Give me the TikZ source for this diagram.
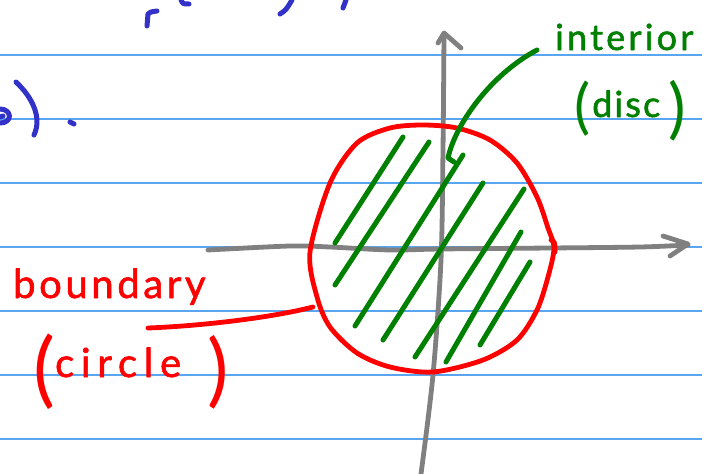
\documentclass[tikz,border=0pt]{standalone}
\usepackage{fontspec}
\newfontfamily\hand[FakeBold=1.5]{Lato}
\newfontfamily\handparen{Lato}
\definecolor{rulecol}{RGB}{90,165,240}
\definecolor{pencol}{RGB}{128,128,128}
\definecolor{inkred}{RGB}{255,0,0}
\definecolor{inkgreen}{RGB}{0,128,0}
\definecolor{inkblue}{RGB}{50,50,200}
\begin{document}
\begin{tikzpicture}[x=1pt,y=-1pt,line cap=round,line join=round,
  ruled/.style={draw=rulecol,line width=1.7pt},
  axis/.style={draw=pencol,line width=4.8pt},
  redink/.style={draw=inkred,line width=4.8pt},
  greenink/.style={draw=inkgreen,line width=5pt},
  blueink/.style={draw=inkblue,line width=5pt},
  handlabel/.style={inner sep=0pt,anchor=base west}]
\useasboundingbox (0,0) rectangle (702,474);
\fill[white] (0,0) rectangle (702,474);
\foreach \yy in {55,119,183,247,311,375,439} \draw[ruled] (0,\yy) -- (702,\yy);

% blue fragments
\draw[blueink] (147,26) -- (148,14) .. controls (150,12) .. (157,11);
\draw[blueink] (181,0) .. controls (183,4) .. (189,4);
\draw[blueink] (280,14) .. controls (286,10) .. (292,0);
\draw[blueink] (343,8) -- (346,0);
\draw[blueink] (0,109) .. controls (12,109) and (13,123) .. (0,123);
\draw[blueink] (0,117) -- (3,116);
\draw[blueink] (16,82) .. controls (33,98) and (42,118) .. (34,135);
\draw[blueink] (70,122) -- (74,124);

% axes
\draw[axis] plot[smooth] coordinates {(208,250) (290,246) (330,247) (390,250) (440,249) (550,248) (640,247) (688,245)};
\draw[axis] (663,236) -- (688,244) -- (670,256);
\draw[axis] plot[smooth] coordinates {(421,474) (433,375) (441,260) (443,150) (444,35)};
\draw[axis] (438,43) -- (444,33) -- (461,48);

% circle
\draw[redink] plot[smooth cycle] coordinates {(310,252) (317,297) (330,327) (357,353) (390,367) (433,372) (483,360) (517,340) (537,310) (548,277) (554,248) (548,228) (537,197) (517,163) (490,140) (457,128) (423,125) (390,128) (357,143) (330,183)};
\draw[redink] (551,240) .. controls (555,242) .. (555,252);

% hatching
\draw[greenink] (335,243) -- (403,137);
\draw[greenink] (335,285) -- (429,142);
\draw[greenink] (355,326) -- (463,155);
\draw[greenink] (383,340) -- (483,183);
\draw[greenink] (415,357) -- (524,189);
\draw[greenink] (446,362) -- (521,232);
\draw[greenink] (480,345) -- (530,262);

% labels
\node[handlabel,text=inkgreen,font={\hand\fontsize{36}{36}\selectfont\addfontfeatures{LetterSpace=9}}] (interior) at (555,50) {interior};
\node[handlabel,text=inkgreen,font={\hand\fontsize{36}{36}\selectfont\addfontfeatures{LetterSpace=6}}] (disc) at (574,117) {\raisebox{-10pt}{\handparen\fontsize{60}{60}\selectfont(}\hspace{2pt}disc\hspace{8pt}\raisebox{-14pt}{\handparen\fontsize{66}{66}\selectfont)}};
\node[handlabel,text=inkred,font={\hand\fontsize{40}{40}\selectfont\addfontfeatures{LetterSpace=9}}] (boundary) at (13,298) {boundary};
\node[handlabel,text=inkred,font={\hand\fontsize{40}{40}\selectfont\addfontfeatures{LetterSpace=17}}] (circle) at (33,377) {\raisebox{-20pt}{\handparen\fontsize{82}{82}\selectfont(}circle\hspace{26pt}\raisebox{-20pt}{\handparen\fontsize{80}{80}\selectfont)}};

% leaders
\coordinate (intstart) at (537,50);
\coordinate (intend) at (448,158);
\coordinate (bndstart) at (313,307);
\coordinate (bndend) at (148,328);
\draw[greenink] (intstart) .. controls (490,75) and (455,125) .. (intend) -- (454,162);
\draw[redink] (bndstart) .. controls (270,318) and (200,326) .. (bndend);
\end{tikzpicture}
\end{document}
